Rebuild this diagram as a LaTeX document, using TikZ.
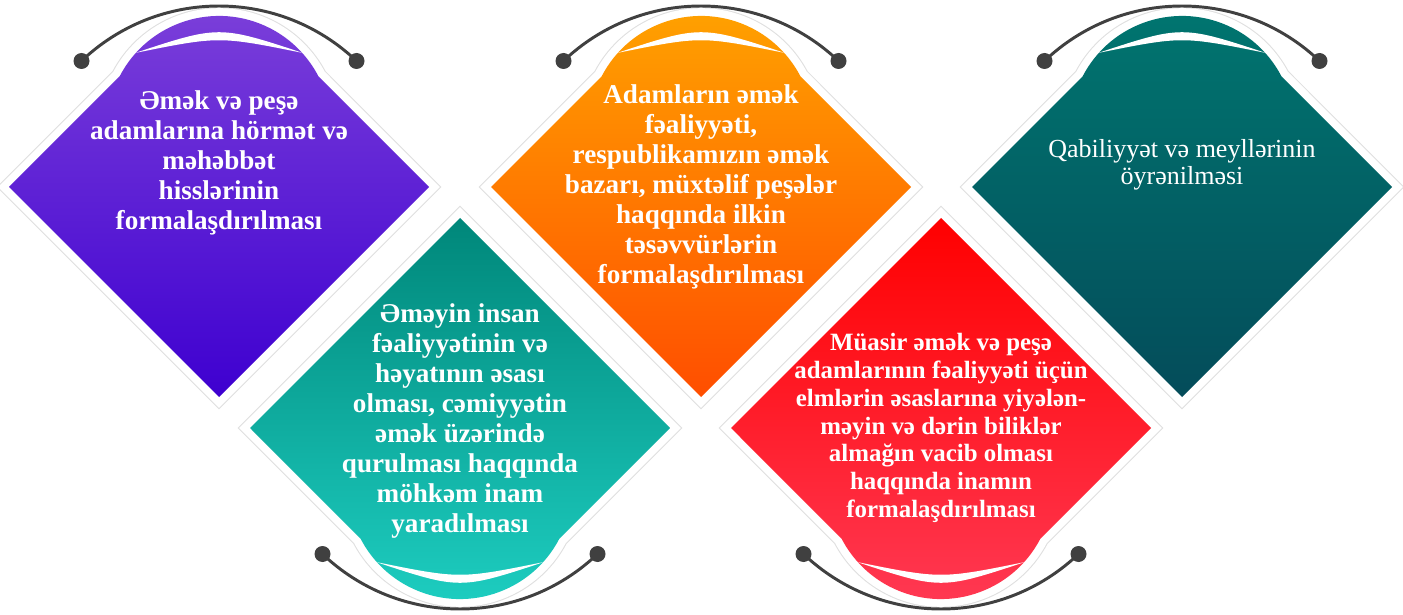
\documentclass[tikz,border=0pt]{standalone}
\usepackage{fontspec}
\setmainfont{Liberation Serif}
\usepackage{xcolor}

\definecolor{purpletop}{RGB}{124,64,218}
\definecolor{purplebot}{RGB}{62,0,208}
\definecolor{orangetop}{RGB}{255,163,0}
\definecolor{orangebot}{RGB}{255,78,0}
\definecolor{tealtop}{RGB}{0,118,112}
\definecolor{tealbot}{RGB}{4,76,90}
\definecolor{aquatop}{RGB}{0,135,122}
\definecolor{aquabot}{RGB}{30,207,194}
\definecolor{redtop}{RGB}{255,0,0}
\definecolor{redbot}{RGB}{255,58,85}
\definecolor{hoopgray}{RGB}{64,64,64}

\begin{document}
\begin{tikzpicture}[x=0.025cm, y=0.025cm,
	topshape/.style={insert path={(-210,0) -- (-99.4,110.6) arc[start angle=152.6, end angle=27.4, radius=112] -- (210,0) -- (0,-210) -- cycle}},
	lowshape/.style={insert path={(-210,0) -- (0,210) -- (210,0) -- (99.4,-110.6) arc[start angle=-27.4, end angle=-152.6, radius=112] -- cycle}},
	toplens/.style={insert path={(-84,134) .. controls (0,161.7) .. (84,134) .. controls (0,151) .. (-84,134) -- cycle}},
	lowlens/.style={insert path={(-84,-134) .. controls (0,-161.7) .. (84,-134) .. controls (0,-151) .. (-84,-134) -- cycle}},
	halo/.style={draw=gray!25, line width=12.5pt, line join=miter},
	halowhite/.style={draw=white, line width=11pt, line join=miter},
	hoop/.style={draw=hoopgray, line width=2.1pt},
	txt/.style={text=white, align=center, font=\bfseries\fontsize{19.3}{21.3}\selectfont}]

	\useasboundingbox (0,0) rectangle (1403,614);

	\begin{scope}[shift={(219,427)}]
		\path[halo, topshape];
		\path[halowhite, topshape];
		\shade[top color=purpletop, bottom color=purplebot, topshape];
		\fill[white, toplens];
		\coordinate (purple-l) at (-137.5,126);
		\coordinate (purple-r) at (137.5,126);
		\draw[hoop] (purple-l) arc[start angle=133.6, end angle=46.4, radius=199.4];
		\fill[hoopgray] (purple-l) circle (8) (purple-r) circle (8);
		\node[txt] (purple-text) at (0,24) {Əmək və peşə\\adamlarına hörmət və\\məhəbbət\\hisslərinin\\formalaşdırılması};
	\end{scope}

	\begin{scope}[shift={(701,427)}]
		\path[halo, topshape];
		\path[halowhite, topshape];
		\shade[top color=orangetop, bottom color=orangebot, topshape];
		\fill[white, toplens];
		\coordinate (orange-l) at (-137.5,126);
		\coordinate (orange-r) at (137.5,126);
		\draw[hoop] (orange-l) arc[start angle=133.6, end angle=46.4, radius=199.4];
		\fill[hoopgray] (orange-l) circle (8) (orange-r) circle (8);
		\node[txt] (orange-text) at (0,0) {Adamların əmək\\fəaliyyəti,\\respublikamızın əmək\\bazarı, müxtəlif peşələr\\haqqında ilkin\\təsəvvürlərin\\formalaşdırılması};
	\end{scope}

	\begin{scope}[shift={(1182,427)}]
		\path[halo, topshape];
		\path[halowhite, topshape];
		\shade[top color=tealtop, bottom color=tealbot, topshape];
		\fill[white, toplens];
		\coordinate (teal-l) at (-137.5,126);
		\coordinate (teal-r) at (137.5,126);
		\draw[hoop] (teal-l) arc[start angle=133.6, end angle=46.4, radius=199.4];
		\fill[hoopgray] (teal-l) circle (8) (teal-r) circle (8);
		\node[txt, font=\mdseries\fontsize{18.5}{19.5}\selectfont] (teal-text) at (0,22) {Qabiliyyət və meyllərinin\\öyrənilməsi};
	\end{scope}

	\begin{scope}[shift={(460,186)}]
		\path[halo, lowshape];
		\path[halowhite, lowshape];
		\shade[top color=aquatop, bottom color=aquabot, lowshape];
		\fill[white, lowlens];
		\coordinate (aqua-l) at (-137.5,-126);
		\coordinate (aqua-r) at (137.5,-126);
		\draw[hoop] (aqua-l) arc[start angle=-133.6, end angle=-46.4, radius=199.4];
		\fill[hoopgray] (aqua-l) circle (8) (aqua-r) circle (8);
		\node[txt] (aqua-text) at (0,7) {Əməyin insan\\fəaliyyətinin və\\həyatının əsası\\olması, cəmiyyətin\\əmək üzərində\\qurulması haqqında\\möhkəm inam\\yaradılması};
	\end{scope}

	\begin{scope}[shift={(941,186)}]
		\path[halo, lowshape];
		\path[halowhite, lowshape];
		\shade[top color=redtop, bottom color=redbot, lowshape];
		\fill[white, lowlens];
		\coordinate (red-l) at (-137.5,-126);
		\coordinate (red-r) at (137.5,-126);
		\draw[hoop] (red-l) arc[start angle=-133.6, end angle=-46.4, radius=199.4];
		\fill[hoopgray] (red-l) circle (8) (red-r) circle (8);
		\node[txt, font=\bfseries\fontsize{17.7}{19.8}\selectfont] (red-text) at (0,0) {Müasir əmək və peşə\\adamlarının fəaliyyəti üçün\\elmlərin əsaslarına yiyələn-\\məyin və dərin biliklər\\almağın vacib olması\\haqqında inamın\\formalaşdırılması};
	\end{scope}
\end{tikzpicture}
\end{document}
